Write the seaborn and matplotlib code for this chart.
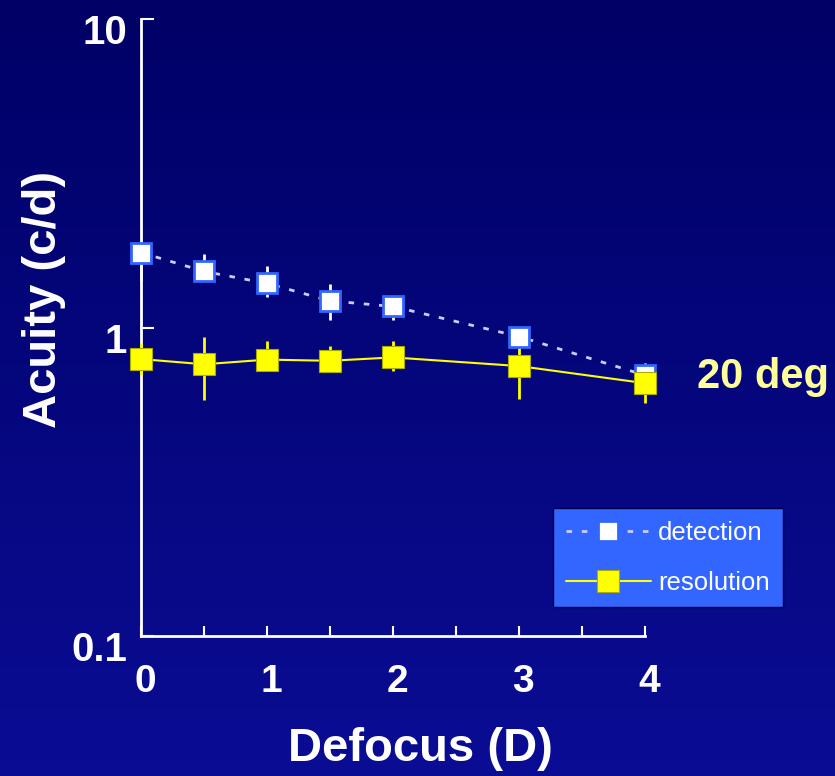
import numpy as np
import matplotlib
matplotlib.use('Agg')
import matplotlib.pyplot as plt
import matplotlib.transforms as mtransforms
from matplotlib.ticker import NullLocator, FixedLocator
import seaborn as sns

sns.set_style('ticks')
plt.rcParams['font.family'] = ['Liberation Sans', 'DejaVu Sans']

# data
defocus = [0, 0.5, 1, 1.5, 2, 3, 4]
detection = [1.75, 1.52, 1.39, 1.22, 1.17, 0.935, 0.70]
detection_lo = [1.42, 1.42, 1.26, 1.06, 1.06, 0.90, 0.68]
detection_hi = [1.80, 1.73, 1.58, 1.38, 1.22, 0.97, 0.77]
resolution = [0.79, 0.76, 0.787, 0.78, 0.80, 0.75, 0.66]
resolution_lo = [0.70, 0.58, 0.75, 0.75, 0.725, 0.588, 0.571]
resolution_hi = [0.894, 0.935, 0.907, 0.868, 0.907, 0.868, 0.70]
y_ticks = [0.1, 1, 10]
y_ticklabels = ['0.1', '1', '10']
x_ticks = [0, 1, 2, 3, 4]

fig = plt.figure(figsize=(8.35, 7.76), dpi=100)

# background gradient
bg = fig.add_axes([0, 0, 1, 1], zorder=-1)
grad = np.linspace(0, 1, 256).reshape(-1, 1)
top = np.array([0.0, 0.0, 0.40])
bot = np.array([0.04, 0.05, 0.58])
img = top + grad[..., None] * (bot - top)
bg.imshow(img, aspect='auto', extent=[0, 1, 0, 1], origin='upper')
bg.axis('off')

ax = fig.add_axes([0.1689, 0.1804, 0.6036, 0.7951])
ax.set_facecolor('none')

det_err = [np.array(detection) - np.array(detection_lo),
           np.array(detection_hi) - np.array(detection)]
res_err = [np.array(resolution) - np.array(resolution_lo),
           np.array(resolution_hi) - np.array(resolution)]
ax.errorbar(defocus, detection, yerr=det_err, fmt='none', ecolor='white',
            elinewidth=2, capsize=0, zorder=2, clip_on=False)
ax.errorbar(defocus, resolution, yerr=res_err, fmt='none', ecolor='#ffff00',
            elinewidth=2, capsize=0, zorder=3, clip_on=False)

sns.lineplot(x=defocus, y=detection, ax=ax, color='#ccccff', lw=2,
             linestyle=(0, (2, 3.5)), marker='s', markersize=14,
             markerfacecolor='white', markeredgecolor='#3366ff',
             markeredgewidth=2, label='detection', zorder=4, clip_on=False)
sns.lineplot(x=defocus, y=resolution, ax=ax, color='#ffff00', lw=1.5,
             marker='s', markersize=15.5, markerfacecolor='#ffff00',
             markeredgecolor='#aaaa00', markeredgewidth=0.8,
             label='resolution', zorder=5, clip_on=False)

ax.set_yscale('log')
ax.set_ylim(0.1, 10)
ax.set_xlim(0, 4)
ax.yaxis.set_major_locator(FixedLocator(y_ticks))
ax.yaxis.set_minor_locator(NullLocator())
ax.set_yticklabels(y_ticklabels)
ax.set_xticks(x_ticks)
ax.set_xticks(np.arange(0, 4.01, 0.5), minor=True)

for s in ['top', 'right']:
    ax.spines[s].set_visible(False)
for s in ['left', 'bottom']:
    ax.spines[s].set_color('white')
    ax.spines[s].set_linewidth(2)

ax.tick_params(axis='x', which='both', direction='in', length=7, width=1.5,
               color='white', labelcolor='white', labelsize=28, pad=20)
ax.tick_params(axis='y', which='major', direction='in', length=9, width=1.5,
               color='white', labelcolor='white', labelsize=29, pad=10)
for lab in ax.get_xticklabels():
    lab.set_fontweight('bold')
    lab.set_transform(lab.get_transform() +
                      mtransforms.ScaledTranslation(4 / 100, 0, fig.dpi_scale_trans))
for lab in ax.get_yticklabels():
    lab.set_fontweight('bold')
    lab.set_transform(lab.get_transform() +
                      mtransforms.ScaledTranslation(0, -10 / 100, fig.dpi_scale_trans))

ax.set_ylabel('Acuity (c/d)', fontsize=34, fontweight='bold', color='white')
ax.yaxis.set_label_coords(-0.148, 0.545)
ax.set_xlabel('Defocus (D)', fontsize=34, fontweight='bold', color='white')
ax.xaxis.set_label_coords(0.554, -0.147)

fig.text(697 / 835, 1 - 377 / 776, '20 deg', fontsize=30, fontweight='bold',
         color='#ffff99', ha='left', va='center')

ax.get_legend().remove()
h, l = ax.get_legend_handles_labels()
leg = fig.legend(h, l, loc='upper left', bbox_to_anchor=(553 / 835, 1 - 508 / 776),
                 frameon=True, fancybox=False, framealpha=1, facecolor='#3366ff',
                 edgecolor='#000044', fontsize=18.5, handlelength=3.3,
                 handletextpad=0.3, labelspacing=1.0, borderpad=0.5,
                 borderaxespad=0)
for t in leg.get_texts():
    t.set_color('white')

fig.savefig('out.png', dpi=100)
